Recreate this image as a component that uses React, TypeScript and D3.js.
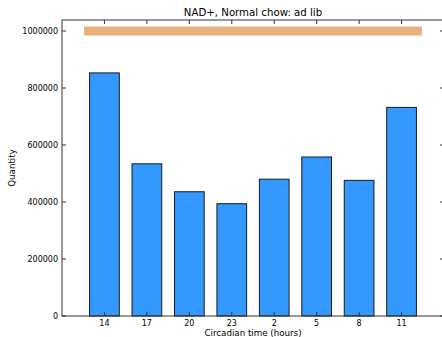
import React from 'react';
import * as d3 from 'd3';

const hours = ['14', '17', '20', '23', '2', '5', '8', '11'];
const quantity = [853000, 534000, 436000, 394000, 480000, 558000, 476000, 732000];
const yTicks = [0, 200000, 400000, 600000, 800000, 1000000];
// horizontal band marking the light/dark period (in bar index units)
const bandSpan = [-0.48, 7.48];
const bandValue = 1000000;

const W = 442;
const H = 337;
const margin = {top: 20, right: -2, bottom: 21, left: 62};

const App: React.FC = () => {
  const x = d3
    .scaleLinear()
    .domain([-1, hours.length])
    .range([margin.left, W - margin.right]);
  const y = d3
    .scaleLinear()
    .domain([0, 1038600])
    .range([H - margin.bottom, margin.top]);

  const barW = x(0.35) - x(-0.35);
  const font = '"DejaVu Sans", sans-serif';
  const cx = (x.range()[0] + x.range()[1]) / 2;

  return (
    <svg
      width={W}
      height={H}
      style={{position: 'absolute', left: 0, top: 0, background: '#fff'}}
    >
      <text x={cx} y={16} textAnchor='middle' fontFamily={font} fontSize={10.2}>
        NAD+, Normal chow: ad lib
      </text>

      {/* band */}
      <rect
        x={x(bandSpan[0])}
        y={y(bandValue) - 4.5}
        width={x(bandSpan[1]) - x(bandSpan[0])}
        height={9}
        fill='#e8b07c'
      />

      {/* bars */}
      {quantity.map((v, i) => (
        <rect
          key={hours[i]}
          x={x(i) - barW / 2}
          y={y(v)}
          width={barW}
          height={y(0) - y(v)}
          fill='#3399ff'
          stroke='#1a1a1a'
          strokeWidth={1}
        />
      ))}

      {/* spines */}
      <rect
        x={x.range()[0]}
        y={y.range()[1]}
        width={x.range()[1] - x.range()[0]}
        height={y.range()[0] - y.range()[1]}
        fill='none'
        stroke='#333'
        strokeWidth={1}
      />

      {/* y ticks */}
      {yTicks.map((t) => (
        <g key={t}>
          <line x1={x.range()[0]} x2={x.range()[0] + 4} y1={y(t)} y2={y(t)} stroke='#333' />
          <line x1={x.range()[1] - 4} x2={x.range()[1]} y1={y(t)} y2={y(t)} stroke='#333' />
          <text
            x={x.range()[0] - 4}
            y={y(t)}
            dy='0.35em'
            textAnchor='end'
            fontFamily={font}
            fontSize={8}
          >
            {t}
          </text>
        </g>
      ))}

      {/* x ticks */}
      {hours.map((h, i) => (
        <g key={h}>
          <line x1={x(i)} x2={x(i)} y1={y.range()[0]} y2={y.range()[0] - 4} stroke='#333' />
          <line x1={x(i)} x2={x(i)} y1={y.range()[1]} y2={y.range()[1] + 4} stroke='#333' />
          <text
            x={x(i)}
            y={y.range()[0] + 10}
            textAnchor='middle'
            fontFamily={font}
            fontSize={8}
          >
            {h}
          </text>
        </g>
      ))}

      <text x={cx} y={336} textAnchor='middle' fontFamily={font} fontSize={8.7}>
        Circadian time (hours)
      </text>
      <text
        transform={`translate(15,${(y.range()[0] + y.range()[1]) / 2}) rotate(-90)`}
        textAnchor='middle'
        fontFamily={font}
        fontSize={8.7}
      >
        Quantity
      </text>
    </svg>
  );
};

export default App;
